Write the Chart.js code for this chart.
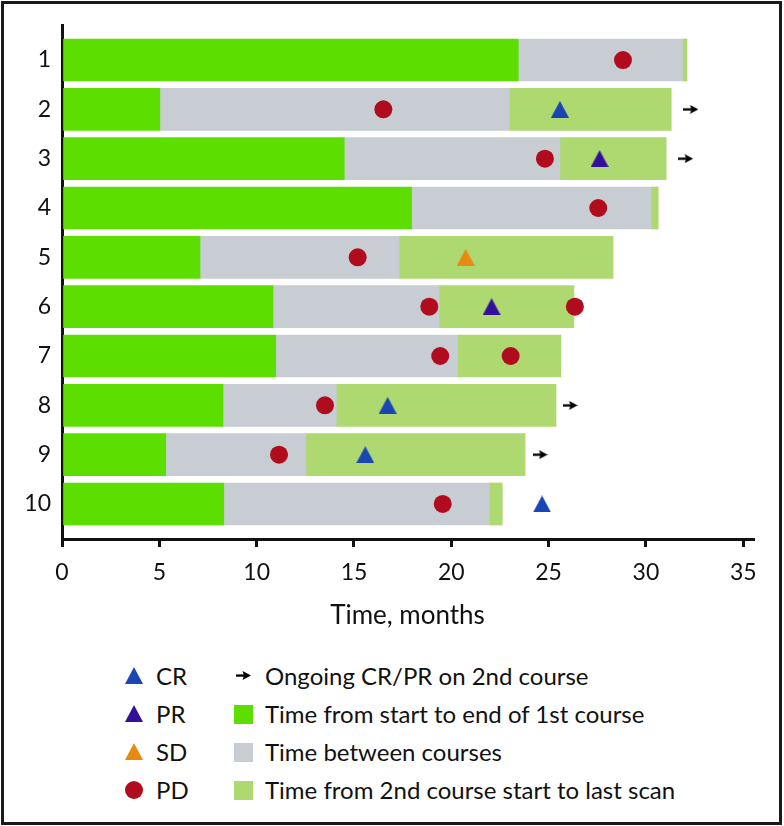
<!DOCTYPE html>
<html><head><meta charset="utf-8">
<script src="https://cdn.jsdelivr.net/npm/chart.js@4"></script>
<style>
html,body{margin:0;padding:0;background:#fff;}
#wrap{position:relative;width:784px;height:826px;overflow:hidden;background:#fff;}
#frame{position:absolute;left:1px;top:1px;width:781px;height:824px;box-sizing:border-box;border:3px solid #1a1a1a;pointer-events:none;}
#c{position:absolute;left:0;top:0;}
.lg{position:absolute;font-family:Lato, sans-serif;font-size:24px;line-height:24px;color:#111;white-space:nowrap;}
.ic{position:absolute;}
</style></head>
<body><div id="wrap"><canvas id="c" width="784" height="640"></canvas><div id="legend"></div><div id="frame"></div></div>
<script>
// ---- data ----
const rows = [1, 2, 3, 4, 5, 6, 7, 8, 9, 10];
const firstCourseEnd    = [23.44, 5.03, 14.50, 17.96, 7.09, 10.84, 10.98, 8.27, 5.33, 8.31];
const secondCourseStart = [31.89, 22.98, 25.58, 30.26, 17.31, 19.37, 20.33, 14.09, 12.53, 21.95];
const lastScan          = [32.11, 31.30, 31.04, 30.63, 28.31, 26.30, 25.63, 25.38, 23.79, 22.62];
const crRows = [2, 8, 9, 10];
const crTimes = [25.58, 16.73, 15.58, 24.66];
const prRows = [3, 6];
const prTimes = [27.62, 22.07];
const sdRows = [5];
const sdTimes = [20.74];
const pdRows = [1, 2, 3, 4, 5, 6, 6, 7, 7, 8, 9, 10];
const pdTimes = [28.82, 16.51, 24.81, 27.55, 15.19, 18.87, 26.35, 19.43, 23.05, 13.51, 11.15, 19.56];
const ongoingRows = [2, 3, 8, 9];
const ongoingTimes = [32.31, 32.04, 26.10, 24.56];
const xTicks = [0, 5, 10, 15, 20, 25, 30, 35];
const xTitle = 'Time, months';
const legendLeft = ['CR', 'PR', 'SD', 'PD'];
const legendRight = ['Ongoing CR/PR on 2nd course', 'Time from start to end of 1st course', 'Time between courses', 'Time from 2nd course start to last scan'];

// ---- styles ----
const C = {green:'#5CDE00', gray:'#C8CDD4', lgreen:'#AED870', red:'#B00C1E', cr:'#1A46B4', pr:'#32109A', sd:'#E88A12', ink:'#111'};

function triImg(color){
  const c=document.createElement('canvas');c.width=18;c.height=17;
  const g=c.getContext('2d');g.fillStyle=color;g.beginPath();
  g.moveTo(9,0);g.lineTo(18,17);g.lineTo(0,17);g.closePath();g.fill();return c;
}
function arrowImg(){
  const c=document.createElement('canvas');c.width=15;c.height=9;
  const g=c.getContext('2d');g.fillStyle='#000';g.fillRect(0,3.4,9,2.3);
  g.beginPath();g.moveTo(6.5,0);g.lineTo(15,4.5);g.lineTo(6.5,9);g.lineTo(8,4.5);g.closePath();g.fill();return c;
}
const pts=(r,t)=>r.map((y,i)=>({x:t[i],y:y}));
const barBase={type:'bar',indexAxis:'y',grouped:false,barThickness:42,borderWidth:0,order:2};
const ptBase={type:'scatter',pointRadius:9,pointHoverRadius:9,borderWidth:0,order:1};

const datasets=[
  Object.assign({},barBase,{label:legendRight[1],backgroundColor:C.green,data:rows.map((y,i)=>({y:y,x:[0,firstCourseEnd[i]]}))}),
  Object.assign({},barBase,{label:legendRight[2],backgroundColor:C.gray,data:rows.map((y,i)=>({y:y,x:[firstCourseEnd[i],secondCourseStart[i]]}))}),
  Object.assign({},barBase,{label:legendRight[3],backgroundColor:C.lgreen,data:rows.map((y,i)=>({y:y,x:[secondCourseStart[i],lastScan[i]]}))}),
  Object.assign({},ptBase,{label:'PD',pointStyle:'circle',backgroundColor:C.red,data:pts(pdRows,pdTimes)}),
  Object.assign({},ptBase,{label:'CR',pointStyle:triImg(C.cr),backgroundColor:C.cr,data:pts(crRows,crTimes)}),
  Object.assign({},ptBase,{label:'PR',pointStyle:triImg(C.pr),backgroundColor:C.pr,data:pts(prRows,prTimes)}),
  Object.assign({},ptBase,{label:'SD',pointStyle:triImg(C.sd),backgroundColor:C.sd,data:pts(sdRows,sdTimes)}),
  Object.assign({},ptBase,{label:legendRight[0],pointStyle:arrowImg(),backgroundColor:'#000',data:pts(ongoingRows,ongoingTimes)})
];

new Chart(document.getElementById('c'),{
  type:'bar',
  data:{datasets:datasets},
  options:{
    responsive:false,animation:false,devicePixelRatio:1,
    layout:{padding:{top:25,right:31,bottom:0,left:0}},
    plugins:{legend:{display:false},tooltip:{enabled:false}},
    scales:{
      x:{type:'linear',position:'bottom',min:0,max:35.5,offset:false,
        afterBuildTicks:s=>{s.ticks=xTicks.map(v=>({value:v}));},
        afterFit:s=>{s.height=101;},
        grid:{offset:false,drawOnChartArea:false,drawTicks:true,tickLength:8,color:C.ink,lineWidth:3},
        border:{display:true,color:C.ink,width:3},
        ticks:{padding:12,color:C.ink,maxRotation:0,font:{family:'Lato',size:23}},
        title:{display:true,text:xTitle,color:C.ink,font:{family:'Lato',size:26},padding:{top:0,bottom:9}}
      },
      y:{type:'linear',position:'left',reverse:true,min:0.29,max:10.71,offset:false,beginAtZero:false,
        afterBuildTicks:s=>{s.ticks=rows.map(v=>({value:v}));},
        afterFit:s=>{s.width=62;},
        grid:{offset:false,display:false,drawTicks:false},
        border:{display:true,color:C.ink,width:3},
        ticks:{padding:11,color:C.ink,font:{family:'Lato',size:23}}
      }
    }
  }
});

// ---- legend (HTML) ----
const lg=document.getElementById('legend');
const rowY=[675.5,713.5,751.5,789.5];
const leftIcons=[triImg(C.cr),triImg(C.pr),triImg(C.sd),null];
legendLeft.forEach((t,i)=>{
  let ic;
  if(leftIcons[i]){ic=leftIcons[i];ic.className='ic';ic.style.left=(134-9)+'px';ic.style.top=(rowY[i]-8.5)+'px';}
  else{ic=document.createElement('div');ic.className='ic';Object.assign(ic.style,{left:(134-9)+'px',top:(rowY[i]-9)+'px',width:'18px',height:'18px',borderRadius:'50%',background:C.red});}
  lg.appendChild(ic);
  const d=document.createElement('div');d.className='lg';d.textContent=t;d.style.left='156px';d.style.top=(rowY[i]-12)+'px';lg.appendChild(d);
});
const rightColors=[null,C.green,C.gray,C.lgreen];
legendRight.forEach((t,i)=>{
  let ic;
  if(!rightColors[i]){ic=arrowImg();ic.className='ic';ic.style.left=(243-7)+'px';ic.style.top=(rowY[i]-4.5)+'px';}
  else{ic=document.createElement('div');ic.className='ic';Object.assign(ic.style,{left:'234px',top:(rowY[i]-9)+'px',width:'19px',height:'19px',background:rightColors[i]});}
  lg.appendChild(ic);
  const d=document.createElement('div');d.className='lg';d.textContent=t;d.style.left='265px';d.style.top=(rowY[i]-12)+'px';lg.appendChild(d);
});
</script>
</body></html>
